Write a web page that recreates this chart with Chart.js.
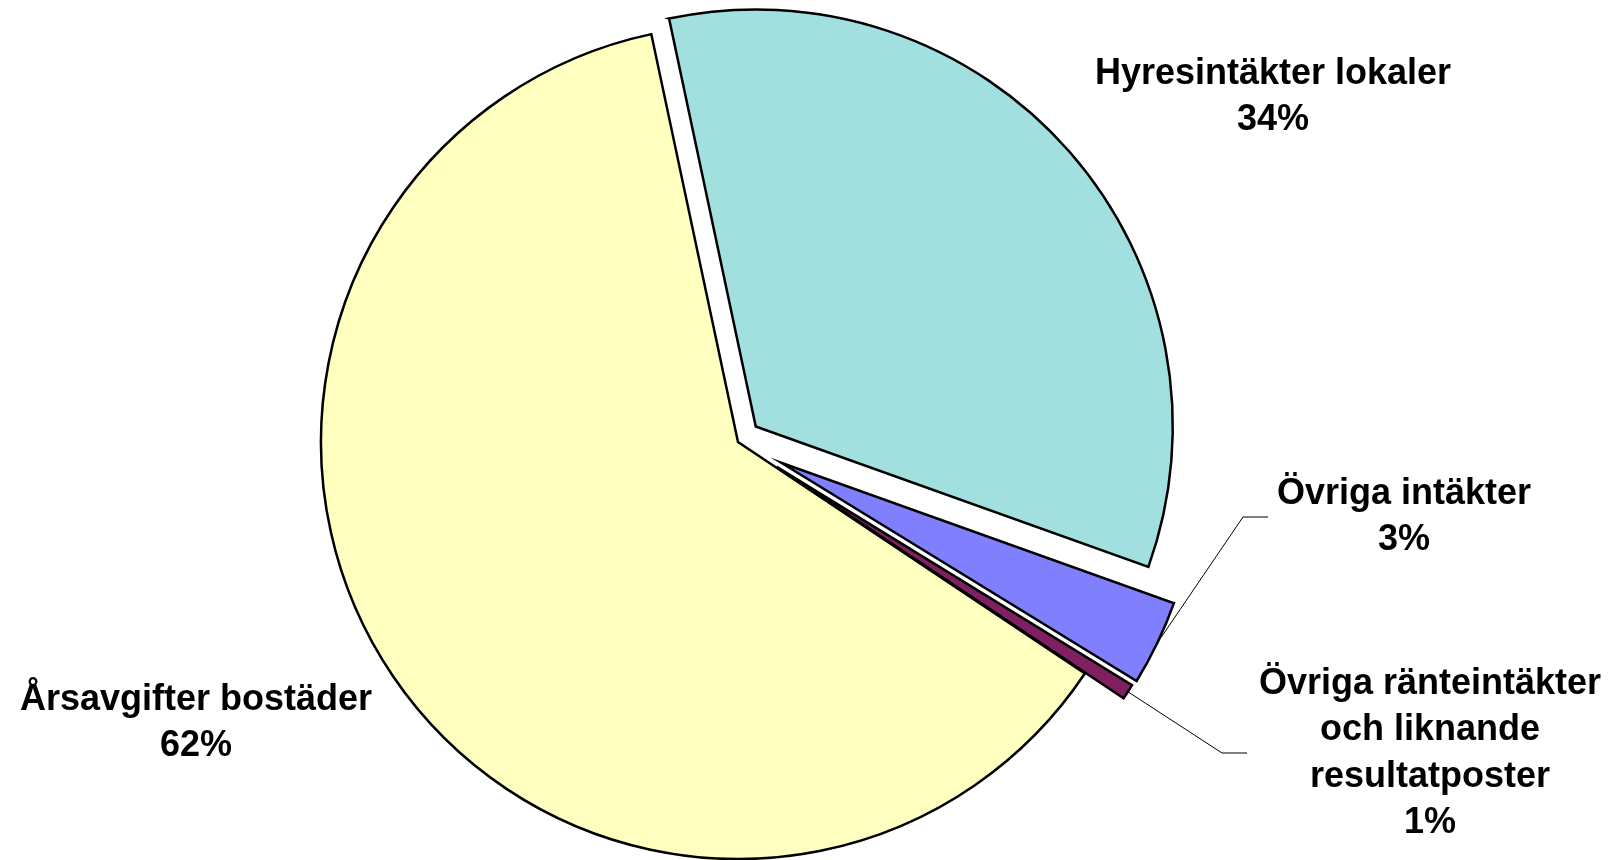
<!DOCTYPE html>
<html>
<head>
<meta charset="utf-8">
<script src="https://cdn.jsdelivr.net/npm/chart.js@4/dist/chart.umd.min.js"></script>
<style>
  html, body { margin: 0; padding: 0; background: #fff; }
  #wrap { width: 1619px; height: 860px; }
</style>
</head>
<body>
<div id="wrap"><canvas id="chart" width="1619" height="860"></canvas></div>
<script>
// slices, clockwise from the top
const categories = [
    'Hyresintäkter lokaler',
    'Övriga intäkter',
    'Övriga ränteintäkter och liknande resultatposter',
    'Årsavgifter bostäder'
]
const shares = [33.8, 3.3, 0.6, 62.3]
const colors = ['#a2e0e0', '#8080ff', '#802060', '#ffffc0']
// how far each slice is pulled out, in px
const explode = [23.6, 48, 46, 0]

// label text split into lines, and where the block sits (x, y of first line)
const labelLines = [
    ['Hyresintäkter lokaler'],
    ['Övriga intäkter'],
    ['Övriga ränteintäkter', 'och liknande', 'resultatposter'],
    ['Årsavgifter bostäder']
]
const labelPos = [[1273, 74], [1404, 494], [1430, 684], [196, 700]]
// leader lines: elbow point and end of the short horizontal part (null = none)
const leaders = [null, [[1243, 517], [1268, 517]], [[1222, 753], [1247, 753]], null]

const pieRadius = 417
const lineH = 46.5

// pull slices out like excel does (plain shift, same radius and angle)
// chart.js' own offset also trims thin slices, so move the arcs here instead
const explodeSlices = {
    id: 'explodeSlices',
    beforeDatasetsDraw(chart) {
        const a = chart.chartArea
        const cx = (a.left + a.right) / 2
        const cy = (a.top + a.bottom) / 2
        chart.getDatasetMeta(0).data.forEach((arc, i) => {
            const mid = (arc.startAngle + arc.endAngle) / 2
            arc.x = cx + Math.cos(mid) * explode[i]
            arc.y = cy + Math.sin(mid) * explode[i]
        })
    }
}

const pieLabels = {
    id: 'pieLabels',
    afterDatasetsDraw(chart) {
        const ctx = chart.ctx
        const arcs = chart.getDatasetMeta(0).data
        const total = shares.reduce((a, b) => a + b, 0)
        ctx.save()
        arcs.forEach((arc, i) => {
            // leader line from the outer edge of the slice
            if (leaders[i]) {
                const mid = (arc.startAngle + arc.endAngle) / 2
                ctx.beginPath()
                ctx.strokeStyle = '#000'
                ctx.lineWidth = 1
                ctx.moveTo(arc.x + Math.cos(mid) * arc.outerRadius, arc.y + Math.sin(mid) * arc.outerRadius)
                ctx.lineTo(leaders[i][0][0], leaders[i][0][1])
                ctx.lineTo(leaders[i][1][0], leaders[i][1][1])
                ctx.stroke()
            }
            const lines = labelLines[i].concat([Math.round(shares[i] / total * 100) + '%'])
            ctx.fillStyle = '#000'
            ctx.font = 'bold 36px "Liberation Sans", Arial, sans-serif'
            ctx.textAlign = 'center'
            ctx.textBaseline = 'middle'
            lines.forEach((t, k) => {
                ctx.fillText(t, labelPos[i][0], labelPos[i][1] + k * lineH)
            })
        })
        ctx.restore()
    }
}

new Chart(document.getElementById('chart'), {
    type: 'pie',
    data: {
        labels: categories,
        datasets: [{
            data: shares,
            backgroundColor: colors,
            borderColor: '#000',
            borderWidth: 2.5,
            borderJoinStyle: 'miter',
            clip: false
        }]
    },
    options: {
        responsive: false,
        animation: false,
        rotation: -12,
        radius: pieRadius,
        layout: { padding: { left: 0, right: 143, top: 24, bottom: 0 } },
        plugins: {
            legend: { display: false },
            tooltip: { enabled: false }
        }
    },
    plugins: [explodeSlices, pieLabels]
});
</script>
</body>
</html>
